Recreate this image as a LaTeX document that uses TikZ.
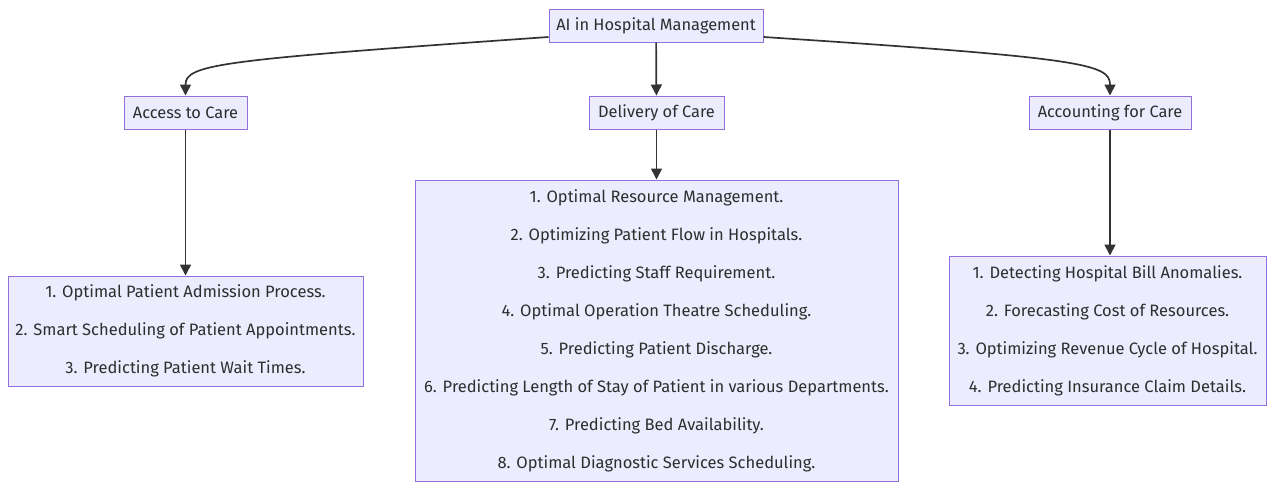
\documentclass[tikz,border=0pt]{standalone}
\usepackage{fontspec}
\setmainfont{Fira Sans}
\usepackage{xcolor}
\usetikzlibrary{arrows.meta,positioning}
\definecolor{boxfill}{HTML}{ECECFF}
\definecolor{boxline}{HTML}{9370DB}
\definecolor{edgecol}{HTML}{333333}
\definecolor{txtcol}{HTML}{2E2E2E}
\tikzset{
  topic/.style={
    draw=boxline,
    fill=boxfill,
    line width=1pt,
    text=txtcol,
    font=\fontsize{16.4}{19}\selectfont,
    minimum height=33pt,
    inner xsep=6pt,
    align=center
  },
  itemlist/.style={
    draw=boxline,
    fill=boxfill,
    line width=1pt,
    text=txtcol,
    font=\fontsize{16.5}{38}\selectfont,
    align=center,
    inner sep=0pt
  },
  link/.style={-{Triangle[length=11pt,width=11pt]},draw=edgecol,line width=1.7pt}
}
\begin{document}
\begin{tikzpicture}[x=1pt,y=1pt]
  \useasboundingbox (0,0) rectangle (1268,-482);
  \node[topic,minimum width=214pt] (root) at (656,-25.5) {AI in Hospital Management};
  \node[topic,minimum width=123pt] (access) at (185.5,-112.5) {Access to Care};
  \node[topic,minimum width=135pt] (delivery) at (656.5,-112.5) {Delivery of Care};
  \node[topic,minimum width=162pt] (accounting) at (1110,-112.5) {Accounting for Care};
  % lists of applications
  \node[itemlist,minimum width=355pt,minimum height=110pt] (accesslist) at (185.5,-331) {
    1. Optimal Patient Admission Process.\\
    2. Smart Scheduling of Patient Appointments.\\
    3. Predicting Patient Wait Times.};
  \node[itemlist,minimum width=483pt,minimum height=301pt] (deliverylist) at (656.5,-330.5) {
    1. Optimal Resource Management.\\
    2. Optimizing Patient Flow in Hospitals.\\
    3. Predicting Staff Requirement.\\
    4. Optimal Operation Theatre Scheduling.\\
    5. Predicting Patient Discharge.\\
    6. Predicting Length of Stay of Patient in various Departments.\\
    7. Predicting Bed Availability.\\
    8. Optimal Diagnostic Services Scheduling.};
  \node[itemlist,minimum width=317pt,minimum height=149pt] (accountinglist) at (1107.5,-330.5) {
    1. Detecting Hospital Bill Anomalies.\\
    2. Forecasting Cost of Resources.\\
    3. Optimizing Revenue Cycle of Hospital.\\
    4. Predicting Insurance Claim Details.};
  \draw[link] (root.west |- 0,-37) .. controls (220,-60) and (185.5,-64) .. (access.north);
  \draw[link] (root) -- (delivery);
  \draw[link] (root.east |- 0,-37) .. controls (1085,-58) and (1110,-64) .. (accounting.north);
  \draw[link] (access) -- (accesslist);
  \draw[link] (delivery) -- (deliverylist);
  \draw[link] (accounting.south) -- (accounting.south |- accountinglist.north);
\end{tikzpicture}
\end{document}
